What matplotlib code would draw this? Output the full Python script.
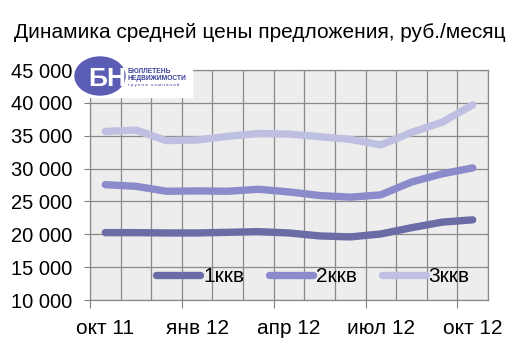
import numpy as np
import matplotlib
matplotlib.use("Agg")
import matplotlib.pyplot as plt
from matplotlib.patches import Ellipse, Rectangle

plt.rcParams['font.family'] = ['Liberation Sans', 'DejaVu Sans']

months = ["окт 11", "ноя 11", "дек 11", "янв 12", "фев 12", "мар 12", "апр 12",
          "май 12", "июн 12", "июл 12", "авг 12", "сен 12", "окт 12"]
k1 = [20250, 20250, 20200, 20200, 20300, 20400, 20200, 19750, 19600, 20050, 21000, 21850, 22200]
k2 = [27550, 27300, 26550, 26600, 26550, 26850, 26450, 25900, 25650, 26000, 27950, 29200, 30100]
k3 = [35650, 35850, 34250, 34350, 34900, 35350, 35250, 34850, 34450, 33600, 35500, 37050, 39700]
series = [("1ккв", k1, "#6b6ba6"), ("2ккв", k2, "#8b8bcb"), ("3ккв", k3, "#bfbfe2")]

fig = plt.figure(figsize=(5.1, 3.61), dpi=100)
ax = fig.add_axes([90 / 510, 1 - 300 / 361, 398 / 510, 230 / 361])
ax.set_facecolor("#ededed")

x = np.arange(len(months))
for name, vals, col in series:
    ax.plot(x, vals, color=col, lw=5.3, solid_capstyle="round",
            solid_joinstyle="round", label=name, zorder=3)

ax.set_xlim(-0.5, len(months) - 0.5)
ax.set_ylim(10000, 45000)
ax.set_yticks(np.arange(10000, 45001, 5000))
ax.set_yticklabels([f"{v:,}".replace(",", " ") for v in range(10000, 45001, 5000)])
ax.tick_params(axis="y", length=4, color="#808080", labelsize=14.5, pad=9)

# boundaries: gridlines every month, tick marks every 3 months
ax.set_xticks(np.arange(-0.5, len(months), 3))
ax.set_xticklabels([])
ax.set_xticks(np.arange(-0.5, len(months), 1), minor=True)
ax.tick_params(axis="x", which="major", length=6, color="#808080")
ax.tick_params(axis="x", which="minor", length=0)
ax.grid(True, which="both", color="#8a8a8a", lw=0.9)
ax.set_axisbelow(True)
for s in ax.spines.values():
    s.set_color("#8a8a8a")
    s.set_linewidth(0.9)

sec = ax.secondary_xaxis("bottom")
sec.set_xticks(x[::3])
sec.set_xticklabels(months[::3])
sec.tick_params(length=0, labelsize=15, pad=14)
sec.spines["bottom"].set_visible(False)

leg = ax.legend(loc="center", bbox_to_anchor=(0.56, 0.1), ncol=3, frameon=False,
                fontsize=15, handlelength=2.1, handletextpad=0.15,
                columnspacing=1.2, borderpad=0)

fig.text(260 / 510, 1 - 32 / 361, "Динамика средней цены предложения, руб./месяц",
         ha="center", va="center", fontsize=15)

# logo
fig.patches.append(Rectangle((90 / 510, 1 - 97 / 361), 102 / 510, 35 / 361,
                             transform=fig.transFigure, color="white", zorder=5))
fig.patches.append(Ellipse((100 / 510, 1 - 76 / 361), 50 / 510, 38 / 361,
                           transform=fig.transFigure, color="#5a5db3", zorder=6))
fig.text(107 / 510, 1 - 79 / 361, "БН", color="white", fontsize=19, weight="bold",
         ha="center", va="center", zorder=7)
fig.text(128 / 510, 1 - 75 / 361, "БЮЛЛЕТЕНЬ\nНЕДВИЖИМОСТИ", color="#3a3f9a",
         fontsize=4.8, weight="bold", ha="left", va="center", linespacing=1.0, zorder=7)
fig.text(128 / 510, 1 - 85 / 361, "г р у п п а   к о м п а н и й", color="#3a3f9a",
         fontsize=3.2, ha="left", va="center", zorder=7)

fig.savefig("out.png", dpi=100)
